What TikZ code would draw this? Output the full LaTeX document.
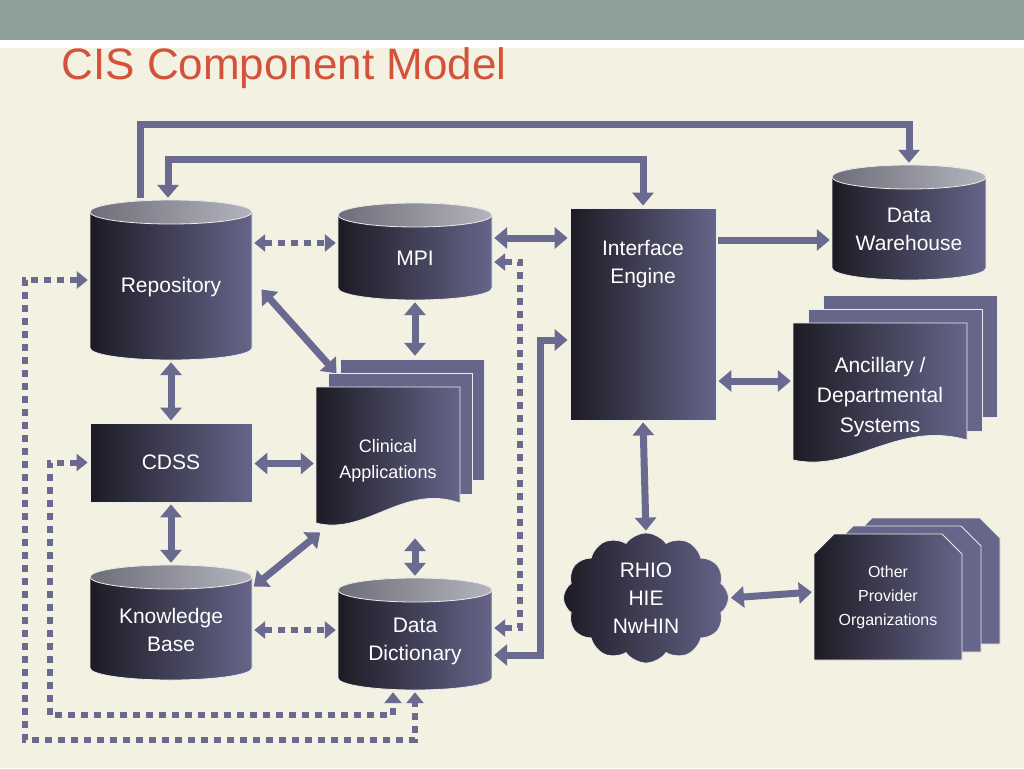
\documentclass[tikz,border=0pt]{standalone}
\usepackage{fontspec}
\setmainfont{Liberation Sans}
\usetikzlibrary{arrows.meta,shapes.symbols,calc}

\definecolor{bgcol}{HTML}{F2F1E2}
\definecolor{barcol}{HTML}{8E9E98}
\definecolor{titlecol}{HTML}{D4523A}
\definecolor{linkcol}{HTML}{6A6990}
\definecolor{darkbox}{HTML}{1C1B24}
\definecolor{midbox}{HTML}{66658A}
\definecolor{topl}{HTML}{6E6E7A}
\definecolor{topr}{HTML}{B4B4BE}

\tikzset{
  body/.style={left color=darkbox,right color=midbox,draw=white!85!gray,line width=0.8pt},
  cyltop/.style={left color=topl,right color=topr,draw=white!85!gray,line width=0.8pt},
  page/.style={fill=midbox,draw=white!85!gray,line width=0.8pt},
  hit/.style={inner sep=0pt,minimum width=#1},
  lbl/.style={text=white,align=center,font=\fontsize{21}{28}\selectfont},
  link/.style={linkcol,line width=7pt,shorten <=2pt,shorten >=2pt},
  dlink/.style={linkcol,line width=6pt,dash pattern=on 7pt off 6pt,shorten <=2pt,shorten >=2pt},
  tip/.tip={Triangle[length=13pt,width=21pt]},
  dtip/.tip={Triangle[length=11pt,width=17pt]}
}

% cylinder: name, x1, y1, x2, y2, text
\newcommand\dbcyl[6]{%
  \pgfmathsetmacro\cx{(#2+#4)/2}\pgfmathsetmacro\cy{(#3+#5)/2}\pgfmathsetmacro\rx{(#4-#2)/2}
  \shade[body] (#2,#3+12) -- (#2,#5-12) arc[start angle=180,end angle=360,x radius=\rx pt,y radius=12pt]
    -- (#4,#3+12) arc[start angle=0,end angle=180,x radius=\rx pt,y radius=12pt] -- cycle;
  \shade[cyltop] (\cx,#3+12) ellipse[x radius=\rx pt,y radius=12pt];
  \node[hit,minimum width=(#4-#2)*1pt,minimum height=(#5-#3)*1pt] (#1) at (\cx,\cy) {};
  \node[lbl] at ([yshift=-7pt]#1.center) {#6};
}
% stack of documents: name, x1, y1, x2, y2, dx, dy, text, font
\newcommand\docstack[9]{%
  \pgfmathsetmacro\w{#4-#2}
  \fill[page] (#2+2*#6,#3-2*#7) rectangle (#4+2*#6,#5-2*#7-20);
  \fill[page] (#2+#6,#3-#7) rectangle (#4+#6,#5-#7-20);
  \shade[body] (#2,#3) -- (#4,#3) -- (#4,#5-25)
    .. controls (#2+0.6*\w,#5-45) and (#2+0.35*\w,#5+8) .. (#2,#5-5) -- cycle;
  \node[hit,minimum width=(#4-#2)*1pt,minimum height=(#5-#3)*1pt] (#1) at ({(#2+#4)/2},{(#3+#5)/2}) {};
  \node[lbl,font=#9] at ([yshift=-3pt]#1.center) {#8};
}
% stack of chamfered boxes: name, x1, y1, x2, y2, dx, dy, text
\newcommand\chamstack[8]{%
  \foreach \k in {2,1} {
    \filldraw[page] (#2+\k*#6,#3-\k*#7+20) -- (#2+\k*#6+20,#3-\k*#7) -- (#4+\k*#6-20,#3-\k*#7)
      -- (#4+\k*#6,#3-\k*#7+20) -- (#4+\k*#6,#5-\k*#7) -- (#2+\k*#6,#5-\k*#7) -- cycle;
  }
  \shade[body] (#2,#3+20) -- (#2+20,#3) -- (#4-20,#3) -- (#4,#3+20) -- (#4,#5) -- (#2,#5) -- cycle;
  \node[hit,minimum width=(#4-#2)*1pt,minimum height=(#5-#3)*1pt] (#1) at ({(#2+#4)/2},{(#3+#5)/2}) {};
  \node[lbl,font=\fontsize{16}{24}\selectfont] at (#1.center) {#8};
}

\begin{document}
\begin{tikzpicture}[x=1pt,y=-1pt]
  \fill[bgcol] (0,0) rectangle (1024,768);
  \fill[barcol] (0,0) rectangle (1024,40);
  \fill[white] (0,40) rectangle (1024,48);
  \node[anchor=west,text=titlecol,font=\fontsize{44}{48}\selectfont] (title) at (58,68) {CIS Component Model};

  \dbcyl{repo}{90}{200}{252}{360}{Repository}
  \dbcyl{mpi}{338}{203}{492}{300}{MPI}
  \dbcyl{dw}{832}{165}{986}{280}{Data\\Warehouse}
  \dbcyl{kb}{90}{565}{252}{680}{Knowledge\\Base}
  \dbcyl{dd}{338}{578}{492}{690}{Data\\Dictionary}

  \node[body,minimum width=146pt,minimum height=212pt,inner sep=0pt] (ie) at (643,314) {};
  \node[lbl] at ([yshift=50pt]ie.center) {Interface\\Engine};
  \node[body,lbl,minimum width=162pt,minimum height=79pt,inner sep=0pt] (cdss) at (171,462.5) {CDSS};

  \docstack{clin}{316}{387}{460}{528}{12}{14}{Clinical\\Applications}{\fontsize{18}{26}\selectfont}
  \docstack{anc}{793}{323}{967}{465}{15}{14}{Ancillary /\\Departmental\\Systems}{\fontsize{21}{30}\selectfont}
  \chamstack{oth}{814}{534}{962}{660}{19}{8}{Other\\Provider\\Organizations}

  \node[cloud,cloud puffs=12,cloud puff arc=110,aspect=1.3,body,lbl,inner sep=0pt,
        minimum width=165pt,minimum height=130pt] (rhio) at (646,598) {RHIO\\HIE\\NwHIN};

  \draw[link,-tip] ([xshift=-31pt]repo.north) -- ++(0,-75) -| (dw.north);
  \draw[link,tip-tip] ([xshift=-3pt]repo.north) -- ++(0,-40) -| (ie.north);
  \draw[dlink,dtip-dtip] ([yshift=37pt]repo.east) -- ([yshift=8.5pt]mpi.west);
  \draw[link,tip-tip] ([yshift=13.5pt]mpi.east) -- ([yshift=76pt]ie.west);
  \draw[link,-tip] ([yshift=74pt]ie.east) -- ([yshift=-17.5pt]dw.west);
  \draw[link,tip-tip] ([shift={(8pt,-8pt)}]repo.east) -- ([shift={(22pt,12pt)}]clin.north west);
  \draw[link,tip-tip] (mpi.south) -- ([shift={(27pt,29pt)}]clin.north);
  \draw[link,tip-tip] (repo.south) -- (cdss.north);
  \draw[link,tip-tip] ([yshift=-1pt]cdss.east) -- ([yshift=-6pt]clin.west);
  \draw[link,tip-tip] (cdss.south) -- (kb.north);
  \draw[link,tip-tip] ([shift={(6pt,-3pt)}]clin.south west) -- ([yshift=-23pt]kb.north east);
  \draw[link,tip-tip] ([shift={(27pt,-8pt)}]clin.south) -- (dd.north);
  \draw[dlink,dtip-dtip] ([yshift=-7.5pt]kb.east) -- ([yshift=4pt]dd.west);
  \draw[link,tip-tip] ([yshift=-67pt]ie.east) -- ([yshift=13pt]anc.west);
  \draw[link,tip-tip] (ie.south) -- (rhio.north);
  \draw[link,tip-tip] (rhio.east) -- ([yshift=5pt]oth.west);
  \draw[link,tip-tip] ([yshift=-21pt]dd.east) -- ++(48,0) |- ([yshift=-26pt]ie.west);
  \draw[dlink,dtip-dtip] ([yshift=-10.5pt]mpi.east) -- ++(28,0) |- ([yshift=6pt]dd.east);
  \draw[dlink,dtip-dtip] (repo.west) -- ++(-65,0) -- ++(0,460) -| (dd.south);
  \draw[dlink,dtip-dtip] (cdss.west) -- ++(-40,0) -- ++(0,252.5) -| ([xshift=-22pt]dd.south);
\end{tikzpicture}
\end{document}
